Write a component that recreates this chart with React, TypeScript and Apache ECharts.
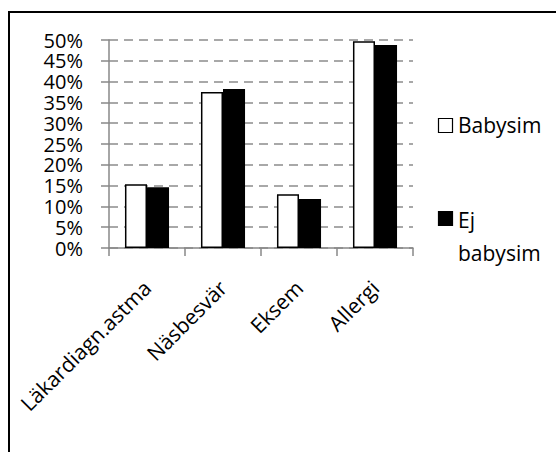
import React, { useEffect, useRef } from "react";
import * as echarts from "echarts";

const categories = ["Läkardiagn.astma", "Näsbesvär", "Eksem", "Allergi"];
const seriesNames = ["Babysim", "Ej babysim"];
const babysim = [15.3, 37.5, 12.9, 49.7];
const ejBabysim = [14.6, 38.2, 11.8, 48.8];
const yTicks = [0, 5, 10, 15, 20, 25, 30, 35, 40, 45, 50];

const FONT = "'Open Sans', sans-serif";

export default function App() {
  const ref = useRef<HTMLDivElement>(null);
  useEffect(() => {
    if (!ref.current) return;
    const chart = echarts.init(ref.current, undefined, { renderer: "svg" });
    chart.setOption({
      animation: false,
      textStyle: { fontFamily: FONT },
      grid: { left: 109, right: 143, top: 40, bottom: 204, containLabel: false },
      xAxis: {
        type: "category",
        data: categories,
        axisLine: { lineStyle: { color: "#888888", width: 1.5 } },
        axisTick: { show: true, length: 8, lineStyle: { color: "#888888", width: 1.5 } },
        axisLabel: {
          rotate: 45,
          interval: 0,
          margin: 36,
          color: "#000",
          fontSize: 21,
          fontFamily: FONT,
        },
      },
      yAxis: {
        type: "value",
        min: yTicks[0],
        max: yTicks[yTicks.length - 1],
        interval: 5,
        axisLine: { show: true, lineStyle: { color: "#888888", width: 1.5 } },
        axisTick: { show: true, length: 8, lineStyle: { color: "#888888", width: 1.5 } },
        axisLabel: {
          formatter: (v: number) => `${v}%`,
          color: "#000",
          fontSize: 20,
          margin: 26,
          fontFamily: FONT,
          lineHeight: 20,
          showMinLabel: true,
          showMaxLabel: true,
          hideOverlap: false,
        },
        splitLine: {
          show: true,
          lineStyle: { color: "#8c8c8c", width: 1.5, type: [9, 6] },
        },
      },
      series: [
        {
          name: seriesNames[0],
          type: "bar",
          data: babysim,
          barGap: "0%",
          barCategoryGap: "42%",
          itemStyle: { color: "#ffffff", borderColor: "#000000", borderWidth: 1.5 },
        },
        {
          name: seriesNames[1],
          type: "bar",
          data: ejBabysim,
          itemStyle: { color: "#000000", borderColor: "#000000", borderWidth: 1.5 },
        },
      ],
      graphic: [
        {
          type: "rect",
          shape: { x: 9, y: 12, width: 700, height: 600 },
          style: { fill: "none", stroke: "#000", lineWidth: 2 },
          silent: true,
        },
        {
          type: "rect",
          shape: { x: 438.5, y: 118.5, width: 14, height: 14 },
          style: { fill: "#fff", stroke: "#000", lineWidth: 1.2 },
        },
        {
          type: "text",
          x: 458,
          y: 125,
          style: { text: seriesNames[0], font: `21px ${FONT}`, fill: "#000", verticalAlign: "middle" },
        },
        {
          type: "rect",
          shape: { x: 438.5, y: 211.5, width: 14, height: 14 },
          style: { fill: "#000", stroke: "#000", lineWidth: 1.2 },
        },
        {
          type: "text",
          x: 458,
          y: 220,
          style: { text: "Ej", font: `21px ${FONT}`, fill: "#000", verticalAlign: "middle" },
        },
        {
          type: "text",
          x: 458,
          y: 253,
          style: { text: "babysim", font: `21px ${FONT}`, fill: "#000", verticalAlign: "middle" },
        },
      ],
    });
    return () => chart.dispose();
  }, []);
  return (
    <div
      ref={ref}
      style={{ position: "fixed", left: 0, top: 0, width: 556, height: 452, background: "#fff" }}
    />
  );
}
